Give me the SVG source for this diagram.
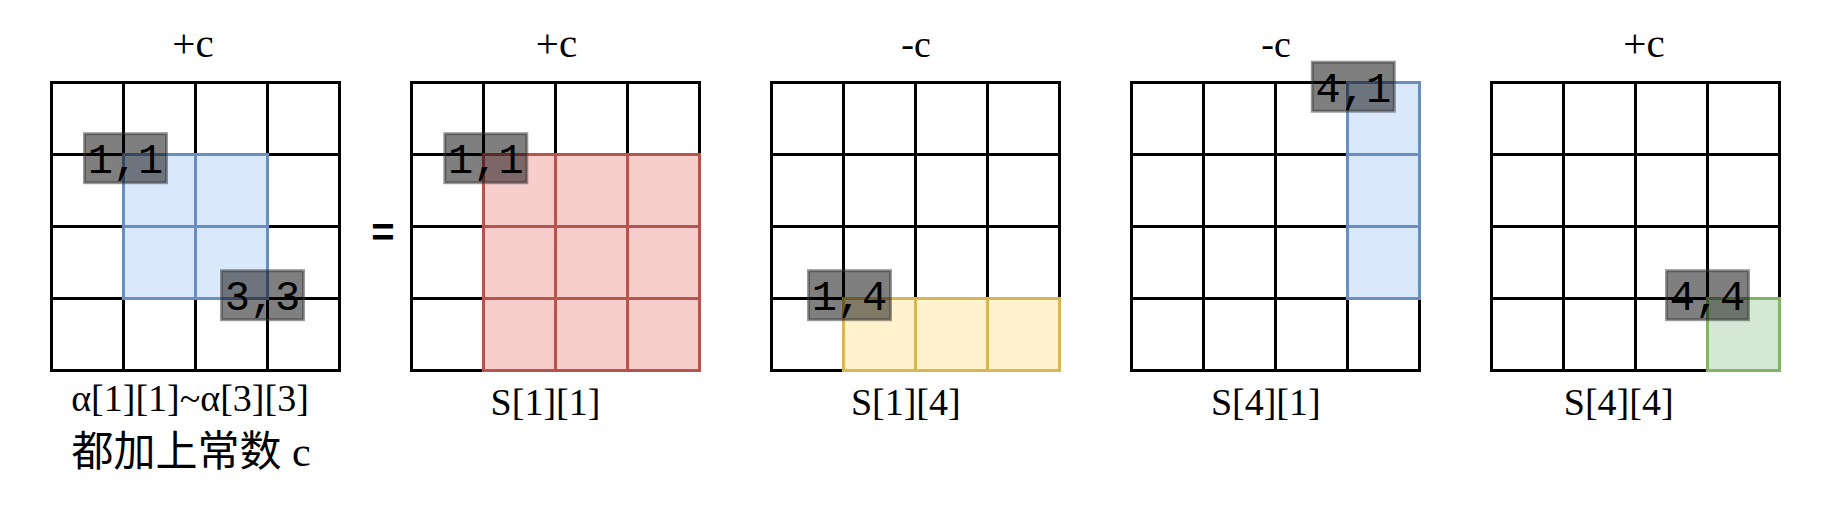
<svg xmlns="http://www.w3.org/2000/svg" xmlns:xlink="http://www.w3.org/1999/xlink" width="1834" height="510" viewBox="0 0 1834 510">
<style>
.bg{fill:#ffffff}
.gl{fill:none;stroke:#000;stroke-width:3}
.blue{fill:#dae8fc;stroke:#6c8ebf;stroke-width:3}
.red{fill:#f8cecc;stroke:#b85450;stroke-width:3}
.yellow{fill:#fff2cc;stroke:#d6b656;stroke-width:3}
.green{fill:#d5e8d4;stroke:#82b366;stroke-width:3}
.tag{fill:#000;fill-opacity:0.5;stroke:#333;stroke-opacity:0.5;stroke-width:3}
.tagt{font-family:"Liberation Mono",monospace;font-size:42px;fill:#000;text-anchor:middle}
.lbl{font-family:"Liberation Serif","Noto Sans CJK SC",serif;font-size:38px;fill:#000;text-anchor:middle}
.plus{font-size:41px}
.cjk{font-size:42px}
.eq{font-family:"Liberation Sans",sans-serif;font-size:40px;font-weight:bold;fill:#000;text-anchor:middle}
</style>
<defs>
<g id="grid">
<rect class="gl" x="0" y="0" width="288" height="288"/>
<path class="gl" d="M72 0V288M144 0V288M216 0V288M0 72H288M0 144H288M0 216H288"/>
</g>
</defs>
<rect class="bg" x="0" y="0" width="1834" height="510"/>

<g id="panel1">
<text class="lbl plus" x="193" y="57">+c</text>
<use xlink:href="#grid" transform="translate(51.5,82.5)"/>
<rect class="blue" x="123.5" y="154.5" width="72" height="72"/>
<rect class="blue" x="195.5" y="154.5" width="72" height="72"/>
<rect class="blue" x="123.5" y="226.5" width="72" height="72"/>
<rect class="blue" x="195.5" y="226.5" width="72" height="72"/>
<rect class="tag" x="84.5" y="133.7" width="82" height="49"/>
<text class="tagt" x="125.5" y="173.2">1,1</text>
<rect class="tag" x="221.5" y="270.7" width="82" height="49"/>
<text class="tagt" x="262.5" y="310.2">3,3</text>
<text class="lbl" x="190" y="411">α[1][1]~α[3][3]</text>
<text class="lbl cjk" x="191" y="466">都加上常数 c</text>
</g>

<g id="equals">
<text class="eq" x="383" y="246">=</text>
</g>

<g id="panel2">
<text class="lbl plus" x="556.5" y="57">+c</text>
<use xlink:href="#grid" transform="translate(411.5,82.5)"/>
<rect class="red" x="483.5" y="154.5" width="72" height="72"/>
<rect class="red" x="555.5" y="154.5" width="72" height="72"/>
<rect class="red" x="627.5" y="154.5" width="72" height="72"/>
<rect class="red" x="483.5" y="226.5" width="72" height="72"/>
<rect class="red" x="555.5" y="226.5" width="72" height="72"/>
<rect class="red" x="627.5" y="226.5" width="72" height="72"/>
<rect class="red" x="483.5" y="298.5" width="72" height="72"/>
<rect class="red" x="555.5" y="298.5" width="72" height="72"/>
<rect class="red" x="627.5" y="298.5" width="72" height="72"/>
<rect class="tag" x="444.8" y="133.7" width="82" height="49"/>
<text class="tagt" x="485.8" y="173.2">1,1</text>
<text class="lbl" x="545.5" y="415">S[1][1]</text>
</g>

<g id="panel3">
<text class="lbl" x="916" y="57">-c</text>
<use xlink:href="#grid" transform="translate(771.5,82.5)"/>
<rect class="yellow" x="843.5" y="298.5" width="72" height="72"/>
<rect class="yellow" x="915.5" y="298.5" width="72" height="72"/>
<rect class="yellow" x="987.5" y="298.5" width="72" height="72"/>
<rect class="tag" x="808.5" y="270.7" width="82" height="49"/>
<text class="tagt" x="849.5" y="310.2">1,4</text>
<text class="lbl" x="905.8" y="415">S[1][4]</text>
</g>

<g id="panel4">
<text class="lbl" x="1276" y="57">-c</text>
<use xlink:href="#grid" transform="translate(1131.5,82.5)"/>
<rect class="blue" x="1347.5" y="82.5" width="72" height="72"/>
<rect class="blue" x="1347.5" y="154.5" width="72" height="72"/>
<rect class="blue" x="1347.5" y="226.5" width="72" height="72"/>
<rect class="tag" x="1312.3" y="62.2" width="82" height="49"/>
<text class="tagt" x="1353.3" y="101.7">4,1</text>
<text class="lbl" x="1265.8" y="415">S[4][1]</text>
</g>

<g id="panel5">
<text class="lbl plus" x="1644" y="57">+c</text>
<use xlink:href="#grid" transform="translate(1491.5,82.5)"/>
<rect class="green" x="1707.5" y="298.5" width="72" height="72"/>
<rect class="tag" x="1666.5" y="270.7" width="82" height="49"/>
<text class="tagt" x="1707.5" y="310.2">4,4</text>
<text class="lbl" x="1618.7" y="415">S[4][4]</text>
</g>

<g id="connectors"></g>
</svg>
